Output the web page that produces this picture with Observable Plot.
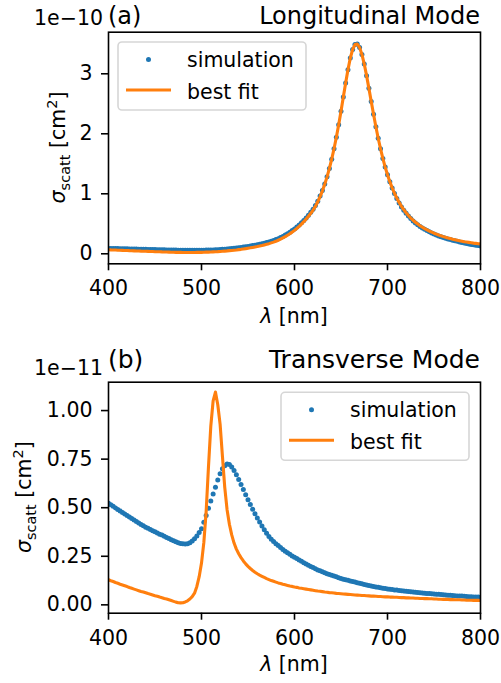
<!DOCTYPE html>
<html><head><meta charset="utf-8">
<script src="https://cdn.jsdelivr.net/npm/d3@7"></script>
<script src="https://cdn.jsdelivr.net/npm/@observablehq/plot@0.6"></script>
<style>
html,body{margin:0;padding:0;background:#fff;}
#wrap{position:relative;width:501px;height:683px;overflow:hidden;font-family:"DejaVu Sans";}
#wrap svg{position:absolute;left:0;}
</style></head><body><div id="wrap"></div>
<script>
// wavelength grid (nm), sampled every 2.5 nm from 400 to 800
const wavelength = d3.range(161).map(i => 400 + 2.5 * i);
const xTicks = [400, 500, 600, 700, 800];

// (a) Longitudinal mode, units of 1e-10 cm^2
const simLong = [
0.090,0.089,0.088,0.087,0.086,0.085,0.084,0.083,0.082,0.081,
0.080,0.079,0.078,0.077,0.076,0.075,0.074,0.073,0.072,0.071,
0.070,0.069,0.068,0.067,0.066,0.065,0.064,0.063,0.062,0.061,
0.060,0.060,0.059,0.059,0.058,0.058,0.058,0.058,0.058,0.058,
0.059,0.060,0.061,0.062,0.063,0.065,0.067,0.069,0.071,0.074,
0.077,0.080,0.083,0.087,0.091,0.095,0.100,0.105,0.111,0.117,
0.123,0.129,0.136,0.143,0.150,0.158,0.167,0.177,0.187,0.198,
0.210,0.222,0.236,0.252,0.270,0.290,0.311,0.334,0.359,0.386,
0.415,0.446,0.480,0.516,0.555,0.597,0.642,0.691,0.744,0.803,
0.877,0.961,1.056,1.164,1.285,1.423,1.577,1.750,1.942,2.152,
2.377,2.611,2.846,3.069,3.261,3.405,3.486,3.495,3.438,3.323,
3.162,2.969,2.757,2.539,2.324,2.118,1.926,1.750,1.590,1.445,
1.316,1.200,1.096,1.004,0.921,0.847,0.781,0.724,0.674,0.628,
0.586,0.548,0.514,0.483,0.456,0.431,0.407,0.386,0.366,0.347,
0.329,0.313,0.298,0.284,0.271,0.259,0.248,0.237,0.227,0.217,
0.207,0.198,0.189,0.180,0.172,0.164,0.156,0.149,0.142,0.136,
0.130];
const fitLong = [
0.067,0.065,0.064,0.062,0.060,0.059,0.057,0.055,0.054,0.052,
0.051,0.049,0.047,0.046,0.044,0.043,0.041,0.040,0.038,0.037,
0.035,0.034,0.033,0.031,0.030,0.029,0.028,0.026,0.025,0.024,
0.023,0.023,0.022,0.022,0.021,0.022,0.022,0.022,0.023,0.023,
0.024,0.025,0.027,0.028,0.029,0.032,0.034,0.036,0.039,0.042,
0.045,0.048,0.052,0.056,0.060,0.064,0.069,0.074,0.080,0.086,
0.093,0.099,0.106,0.113,0.120,0.128,0.137,0.148,0.158,0.169,
0.182,0.194,0.208,0.225,0.243,0.264,0.285,0.309,0.334,0.361,
0.390,0.422,0.457,0.494,0.535,0.578,0.625,0.675,0.729,0.790,
0.866,0.952,1.049,1.159,1.282,1.422,1.577,1.750,1.942,2.152,
2.377,2.611,2.846,3.069,3.261,3.405,3.486,3.495,3.438,3.323,
3.162,2.969,2.757,2.539,2.324,2.118,1.926,1.750,1.590,1.445,
1.316,1.202,1.099,1.009,0.928,0.856,0.792,0.735,0.684,0.638,
0.596,0.559,0.526,0.495,0.468,0.443,0.419,0.398,0.378,0.360,
0.343,0.328,0.313,0.299,0.286,0.274,0.263,0.253,0.243,0.234,
0.225,0.217,0.210,0.202,0.196,0.190,0.184,0.178,0.173,0.168,
0.163];

// (b) Transverse mode, units of 1e-11 cm^2
const simTrans = [
0.523,0.515,0.507,0.499,0.491,0.483,0.475,0.467,0.460,0.452,
0.444,0.437,0.429,0.421,0.414,0.407,0.400,0.394,0.388,0.382,
0.376,0.370,0.364,0.359,0.353,0.347,0.341,0.335,0.330,0.325,
0.320,0.316,0.314,0.313,0.315,0.320,0.328,0.340,0.355,0.372,
0.392,0.425,0.460,0.497,0.535,0.570,0.605,0.642,0.675,0.700,
0.716,0.725,0.722,0.710,0.692,0.670,0.645,0.620,0.594,0.567,
0.541,0.516,0.492,0.469,0.447,0.426,0.406,0.387,0.369,0.352,
0.338,0.326,0.315,0.305,0.295,0.285,0.276,0.268,0.260,0.252,
0.245,0.238,0.231,0.224,0.217,0.210,0.204,0.198,0.192,0.186,
0.180,0.175,0.170,0.165,0.160,0.156,0.152,0.148,0.144,0.140,
0.136,0.132,0.129,0.126,0.123,0.120,0.117,0.114,0.111,0.108,
0.105,0.102,0.099,0.097,0.095,0.092,0.090,0.088,0.086,0.084,
0.082,0.080,0.079,0.077,0.076,0.074,0.073,0.071,0.070,0.069,
0.067,0.066,0.065,0.064,0.062,0.061,0.060,0.059,0.058,0.057,
0.056,0.055,0.054,0.053,0.052,0.051,0.050,0.049,0.048,0.047,
0.046,0.045,0.045,0.044,0.043,0.042,0.042,0.041,0.040,0.040,
0.039];
const fitTrans = [
0.129,0.124,0.120,0.115,0.111,0.106,0.102,0.098,0.094,0.089,
0.085,0.081,0.077,0.073,0.069,0.066,0.062,0.058,0.055,0.051,
0.047,0.044,0.040,0.037,0.033,0.030,0.026,0.022,0.018,0.014,
0.011,0.010,0.011,0.015,0.021,0.030,0.042,0.060,0.095,0.145,
0.215,0.320,0.480,0.710,0.920,1.050,1.095,1.030,0.930,0.765,
0.605,0.490,0.415,0.360,0.318,0.287,0.263,0.243,0.226,0.211,
0.198,0.187,0.177,0.168,0.160,0.153,0.147,0.141,0.135,0.130,
0.125,0.121,0.117,0.113,0.110,0.106,0.103,0.100,0.097,0.095,
0.092,0.090,0.087,0.085,0.083,0.081,0.079,0.077,0.075,0.073,
0.071,0.070,0.068,0.066,0.065,0.063,0.062,0.061,0.059,0.058,
0.057,0.056,0.055,0.054,0.053,0.052,0.051,0.050,0.049,0.048,
0.048,0.047,0.046,0.045,0.045,0.044,0.043,0.043,0.042,0.041,
0.041,0.040,0.040,0.039,0.039,0.038,0.037,0.037,0.036,0.036,
0.035,0.035,0.034,0.034,0.033,0.033,0.032,0.032,0.031,0.031,
0.030,0.030,0.029,0.029,0.028,0.028,0.028,0.027,0.027,0.026,
0.026,0.026,0.025,0.025,0.024,0.024,0.024,0.023,0.023,0.023,
0.022];

const yTicksLong = [0, 1, 2, 3];
const yTicksTrans = [0, 0.25, 0.5, 0.75, 1.0];

const BLUE = "#1f77b4", ORANGE = "#ff7f0e";
const FS = 20.5, R = 2.5;
const wrap = document.getElementById("wrap");

function panel(o) {
  const simData = wavelength.map((x, i) => ({x, y: o.sim[i]}));
  const fitData = wavelength.map((x, i) => ({x, y: o.fit[i]}));
  const svg = Plot.plot({
    width: 501, height: o.height,
    marginTop: o.mt, marginBottom: o.mb, marginLeft: 108, marginRight: 21,
    x: {domain: [400, 800]},
    y: {domain: o.yDomain},
    style: {fontFamily: "DejaVu Sans", fontSize: FS + "px", color: "black", background: "white", overflow: "visible"},
    marks: [
      Plot.dot(simData, {x: "x", y: "y", r: R, fill: BLUE, clip: true}),
      Plot.line(fitData, {x: "x", y: "y", stroke: ORANGE, strokeWidth: 3.1, clip: true}),
      Plot.axisX({ticks: xTicks, tickSize: 7, tickPadding: 10, strokeWidth: 1.6, label: null, tickFormat: d => String(d), fontSize: FS}),
      Plot.axisY({ticks: o.yTicks, tickSize: 7, tickPadding: 9, strokeWidth: 1.6, label: null, tickFormat: o.fmt, fontSize: FS}),
      Plot.frame({stroke: "black", strokeWidth: 1.6})
    ]
  });
  svg.style.top = o.top + "px";
  wrap.appendChild(svg);
  const s = d3.select(svg);
  const txt = (x, y, str, size, anchor) => s.append("text").attr("x", x).attr("y", y)
    .attr("font-family", "DejaVu Sans").attr("font-size", size).attr("fill", "black")
    .attr("text-anchor", anchor).text(str);
  txt(108, o.titleY, o.tag, o.tfs, "start");
  txt(480, o.titleY, o.title, o.tfs, "end");
  txt(103, o.offY, o.offset, FS, "end");
  // x label
  const xl = s.append("text").attr("x", 294).attr("y", o.xlabY).attr("text-anchor", "middle")
    .attr("font-family", "DejaVu Sans").attr("font-size", FS).attr("fill", "black");
  xl.append("tspan").attr("font-style", "italic").text("λ");
  xl.append("tspan").text(" [nm]");
  // y label
  const yl = s.append("text").attr("transform", `translate(${o.ylabX},${o.ylabY}) rotate(-90)`)
    .attr("text-anchor", "middle").attr("font-family", "DejaVu Sans").attr("font-size", FS).attr("fill", "black");
  yl.append("tspan").attr("font-style", "italic").text("σ");
  yl.append("tspan").attr("font-size", 14.5).attr("dy", 4.5).text("scatt");
  yl.append("tspan").attr("dy", -4.5).text(" [cm");
  yl.append("tspan").attr("font-size", 14.5).attr("dy", -8).text("2");
  yl.append("tspan").attr("dy", 8).text("]");
  // legend
  const L = o.leg;
  s.append("rect").attr("x", L.x).attr("y", L.y).attr("width", 188).attr("height", 68)
    .attr("rx", 4).attr("fill", "white").attr("fill-opacity", 0.8)
    .attr("stroke", "#d6d6d6").attr("stroke-width", 1.6);
  s.append("circle").attr("cx", L.x + 30.5).attr("cy", L.y + 17.5).attr("r", R).attr("fill", BLUE);
  s.append("line").attr("x1", L.x + 8).attr("x2", L.x + 53).attr("y1", L.y + 48).attr("y2", L.y + 48)
    .attr("stroke", ORANGE).attr("stroke-width", 3.1);
  txt(L.x + 69, L.y + 25, "simulation", FS, "start");
  txt(L.x + 69, L.y + 56.5, "best fit", FS, "start");
}

panel({
  sim: simLong, fit: fitLong, yDomain: [-0.167, 3.693], yTicks: yTicksLong, fmt: d => String(d),
  height: 340, top: 0, mt: 31.7, mb: 340 - 263.3,
  tag: "(a)", title: "Longitudinal Mode", offset: "1e\u221210", titleY: 23.5, tfs: 24, offY: 25,
  xlabY: 323, ylabX: 65, ylabY: 147.5, leg: {x: 118, y: 42}
});
panel({
  sim: simTrans, fit: fitTrans, yDomain: [-0.043, 1.146], yTicks: yTicksTrans, fmt: d3.format(".2f"),
  height: 343, top: 340, mt: 41.7, mb: 343 - 272.7,
  tag: "(b)", title: "Transverse Mode", offset: "1e\u221211", titleY: 28.3, tfs: 25, offY: 35,
  xlabY: 331, ylabX: 31, ylabY: 157.2, leg: {x: 281, y: 52.3}
});
</script></body></html>
